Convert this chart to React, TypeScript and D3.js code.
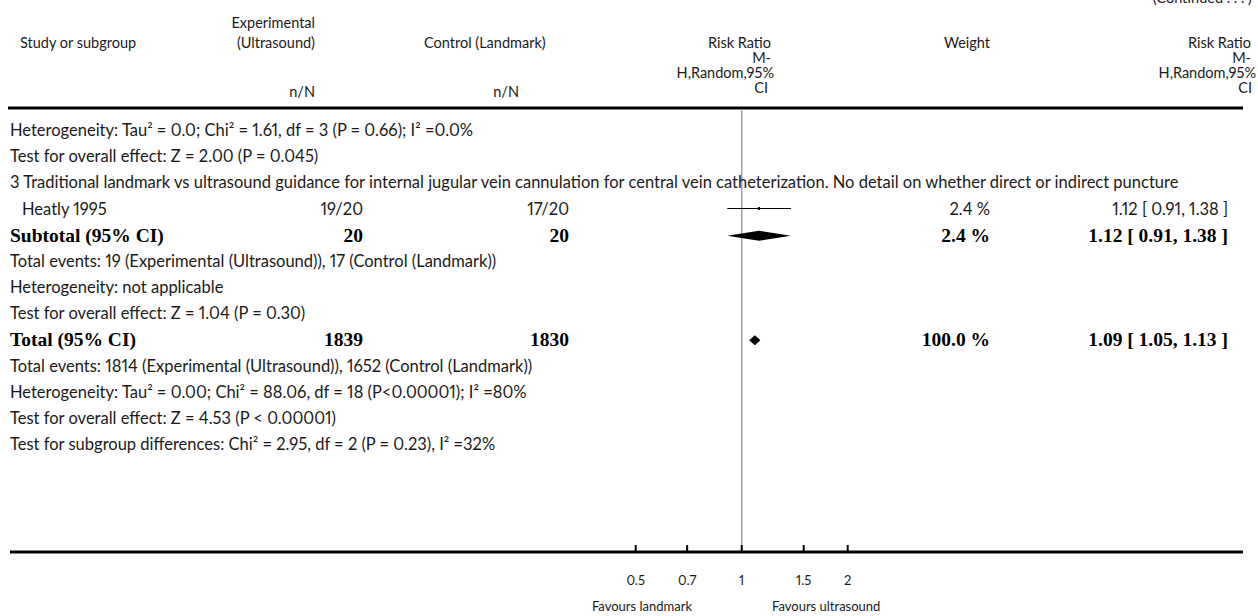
import React from "react";
import * as d3 from "d3";

const W = 1258;
const H = 616;

// ---------- data ----------
const rowKeys = [
  "het1", "test1", "sub3", "heatly", "subtotal", "events3", "het3", "test3",
  "total", "eventsAll", "hetAll", "testAll", "subgroupDiff",
];

const textRows: { key: string; text: string }[] = [
  { key: "het1", text: "Heterogeneity: Tau\u00b2 = 0.0; Chi\u00b2 = 1.61, df = 3 (P = 0.66); I\u00b2 =0.0%" },
  { key: "test1", text: "Test for overall effect: Z = 2.00 (P = 0.045)" },
  { key: "sub3", text: "3 Traditional landmark vs ultrasound guidance for internal jugular vein cannulation for central vein catheterization. No detail on whether direct or indirect puncture" },
  { key: "events3", text: "Total events: 19 (Experimental (Ultrasound)), 17 (Control (Landmark))" },
  { key: "het3", text: "Heterogeneity: not applicable" },
  { key: "test3", text: "Test for overall effect: Z = 1.04 (P = 0.30)" },
  { key: "eventsAll", text: "Total events: 1814 (Experimental (Ultrasound)), 1652 (Control (Landmark))" },
  { key: "hetAll", text: "Heterogeneity: Tau\u00b2 = 0.00; Chi\u00b2 = 88.06, df = 18 (P<0.00001); I\u00b2 =80%" },
  { key: "testAll", text: "Test for overall effect: Z = 4.53 (P < 0.00001)" },
  { key: "subgroupDiff", text: "Test for subgroup differences: Chi\u00b2 = 2.95, df = 2 (P = 0.23), I\u00b2 =32%" },
];

const studyNames = ["Heatly 1995"];
const studyExpEvents = [19];
const studyExpTotal = [20];
const studyCtrlEvents = [17];
const studyCtrlTotal = [20];
const studyRR = [1.12];
const studyLo = [0.91];
const studyHi = [1.38];
const studyWeight = [2.4];

const summaryKeys = ["subtotal", "total"];
const summaryLabels = ["Subtotal (95% CI)", "Total (95% CI)"];
const summaryExpTotal = [20, 1839];
const summaryCtrlTotal = [20, 1830];
const summaryRR = [1.12, 1.09];
const summaryLo = [0.91, 1.05];
const summaryHi = [1.38, 1.13];
const summaryWeight = [2.4, 100.0];

const axisTicks = [0.5, 0.7, 1, 1.5, 2];
const tickLabels = ["0.5", "0.7", "1", "1.5", "2"];

// ---------- helpers ----------
const fmt2 = d3.format(".2f");
const ciText = (rr: number, lo: number, hi: number) => `${fmt2(rr)} [ ${fmt2(lo)}, ${fmt2(hi)} ]`;
const sans = "Lato, 'Open Sans', sans-serif";
const serif = "'Liberation Serif', 'DejaVu Serif', serif";
const ink = "#1a1a1a";

export default function App() {
  const x = d3.scaleLog().domain([0.5, 2]).range([635.7, 847.7]);
  const y = d3.scalePoint<string>().domain(rowKeys).range([136, 450]);

  const colExp = 363;
  const colCtrl = 569;
  const colWeight = 990;
  const colRR = 1228;
  const leftX = 10;
  const axisY = 552;
  const headerLineY = 108;
  const fs = 16.5;
  const hfs = 14.5;

  return (
    <svg
      width={W}
      height={H}
      style={{ position: "absolute", left: 0, top: 0, background: "#fff", fontVariantNumeric: "proportional-nums" }}
      fontFamily={sans}
    >
      {/* clipped continuation note */}
      <text x={1252} y={3} textAnchor="end" fontSize={hfs} fill={ink}>(Continued . . . )</text>

      {/* header */}
      <g fontSize={hfs} fill={ink}>
        <text x={20} y={48}>Study or subgroup</text>
        <text x={315} y={28} textAnchor="end">Experimental</text>
        <text x={315} y={48} textAnchor="end">(Ultrasound)</text>
        <text x={315} y={97} textAnchor="end">n/N</text>
        <text x={424} y={48}>Control (Landmark)</text>
        <text x={519} y={97} textAnchor="end">n/N</text>
        <text x={771} y={48} textAnchor="end">Risk Ratio</text>
        <text x={771} y={63} textAnchor="end">M-</text>
        <text x={774} y={78} textAnchor="end">H,Random,95%</text>
        <text x={768} y={93} textAnchor="end">CI</text>
        <text x={colWeight} y={48} textAnchor="end">Weight</text>
        <text x={1251} y={48} textAnchor="end">Risk Ratio</text>
        <text x={1251} y={63} textAnchor="end">M-</text>
        <text x={1256} y={78} textAnchor="end">H,Random,95%</text>
        <text x={1252} y={93} textAnchor="end">CI</text>
      </g>
      <line x1={leftX - 2} x2={1243} y1={headerLineY} y2={headerLineY} stroke="#000" strokeWidth={3} />

      {/* reference line at RR = 1 */}
      <line x1={x(1)} x2={x(1)} y1={headerLineY + 1} y2={axisY} stroke="#a0a0a0" strokeWidth={1.5} />

      {/* plain text rows */}
      <g fontSize={fs} fill={ink}>
        {textRows.map((r) => (
          <text key={r.key} x={leftX} y={y(r.key) as number}>
            {r.text}
          </text>
        ))}
      </g>

      {/* studies */}
      {studyNames.map((name, i) => {
        const yy = y("heatly") as number;
        const cy = yy - 6;
        return (
          <g key={name} fontSize={fs} fill={ink}>
            <text x={leftX + 12} y={yy}>{name}</text>
            <text x={colExp} y={yy} textAnchor="end">{`${studyExpEvents[i]}/${studyExpTotal[i]}`}</text>
            <text x={colCtrl} y={yy} textAnchor="end">{`${studyCtrlEvents[i]}/${studyCtrlTotal[i]}`}</text>
            <line x1={x(studyLo[i])} x2={x(studyHi[i])} y1={cy} y2={cy} stroke="#000" strokeWidth={1} />
            <rect x={x(studyRR[i]) - 1} y={cy - 1.5} width={2} height={3} fill="#000" />
            <text x={colWeight} y={yy} textAnchor="end">{`${studyWeight[i].toFixed(1)} %`}</text>
            <text x={colRR} y={yy} textAnchor="end">{ciText(studyRR[i], studyLo[i], studyHi[i])}</text>
          </g>
        );
      })}

      {/* summaries */}
      {summaryKeys.map((k, i) => {
        const yy = (y(k) as number) + 1;
        const cy = yy - 6;
        const h = 5;
        const path = `M${x(summaryLo[i])},${cy} L${x(summaryRR[i])},${cy - h} L${x(summaryHi[i])},${cy} L${x(summaryRR[i])},${cy + h} Z`;
        return (
          <g key={k} fontFamily={serif} fontWeight="bold" fontSize={19.5} fill="#000">
            <text x={leftX} y={yy}>{summaryLabels[i]}</text>
            <text x={colExp} y={yy} textAnchor="end">{summaryExpTotal[i]}</text>
            <text x={colCtrl} y={yy} textAnchor="end">{summaryCtrlTotal[i]}</text>
            <path d={path} fill="#000" />
            <text x={colWeight} y={yy} textAnchor="end">{`${summaryWeight[i].toFixed(1)} %`}</text>
            <text x={colRR} y={yy} textAnchor="end">{ciText(summaryRR[i], summaryLo[i], summaryHi[i])}</text>
          </g>
        );
      })}

      {/* axis */}
      <line x1={leftX} x2={1243} y1={axisY} y2={axisY} stroke="#000" strokeWidth={3} />
      {axisTicks.map((t, i) => (
        <g key={t}>
          <line x1={x(t)} x2={x(t)} y1={axisY} y2={axisY - 7} stroke="#000" strokeWidth={2} />
          <text x={x(t)} y={585} textAnchor="middle" fontSize={13} fill={ink}>{tickLabels[i]}</text>
        </g>
      ))}
      <text x={692} y={611} textAnchor="end" fontSize={13} fill={ink}>Favours landmark</text>
      <text x={772} y={611} textAnchor="start" fontSize={13} fill={ink}>Favours ultrasound</text>
    </svg>
  );
}
